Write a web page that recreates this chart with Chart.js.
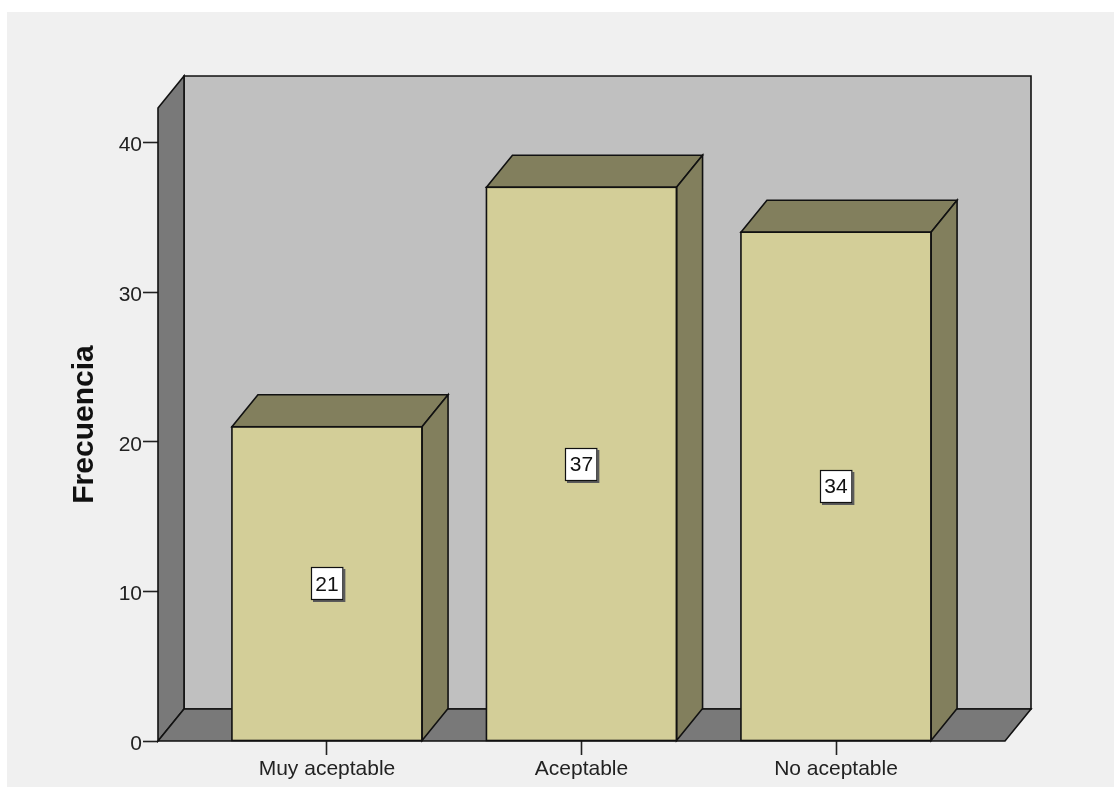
<!DOCTYPE html>
<html>
<head>
<meta charset="utf-8">
<script src="https://cdn.jsdelivr.net/npm/chart.js@4.4.1/dist/chart.umd.min.js"></script>
<style>
  html, body { margin: 0; padding: 0; background: #ffffff; }
  #frame {
    position: absolute; left: 7px; top: 12px;
    width: 1107px; height: 775px; background: #f0f0f0;
  }
  canvas { display: block; }
</style>
</head>
<body>
<div id="frame"><canvas id="chart" width="1107" height="775"></canvas></div>
<script>
// Frequency of each answer
const categories = ['Muy aceptable', 'Aceptable', 'No aceptable'];
const frequencies = [21, 37, 34];
const yTickValues = [0, 10, 20, 30, 40];

// Depth of the 3D box (pixels, toward the upper right)
const DEPTH_X = 26;
const DEPTH_Y = -32;

const COLORS = {
  wall: '#c0c0c0',
  sideWall: '#797979',
  barFront: '#d3ce98',
  barShade: '#827f5d',
  line: '#111111'
};

function poly(ctx, pts, fill) {
  ctx.beginPath();
  ctx.moveTo(pts[0][0], pts[0][1]);
  for (let i = 1; i < pts.length; i++) ctx.lineTo(pts[i][0], pts[i][1]);
  ctx.closePath();
  ctx.fillStyle = fill;
  ctx.fill();
  ctx.stroke();
}

// Back wall, left wall and floor behind the bars; bar tops, sides and labels in front
const boxPlugin = {
  id: 'box3d',
  beforeDatasetsDraw(chart) {
    const { ctx, chartArea: a } = chart;
    ctx.save();
    ctx.lineWidth = 1.6;
    ctx.strokeStyle = COLORS.line;
    ctx.lineJoin = 'miter';
    poly(ctx, [[a.left + DEPTH_X, a.top + DEPTH_Y], [a.right + DEPTH_X, a.top + DEPTH_Y],
               [a.right + DEPTH_X, a.bottom + DEPTH_Y], [a.left + DEPTH_X, a.bottom + DEPTH_Y]], COLORS.wall);
    poly(ctx, [[a.left, a.top], [a.left + DEPTH_X, a.top + DEPTH_Y],
               [a.left + DEPTH_X, a.bottom + DEPTH_Y], [a.left, a.bottom]], COLORS.sideWall);
    poly(ctx, [[a.left, a.bottom], [a.left + DEPTH_X, a.bottom + DEPTH_Y],
               [a.right + DEPTH_X, a.bottom + DEPTH_Y], [a.right, a.bottom]], COLORS.sideWall);
    ctx.restore();
  },
  afterDatasetsDraw(chart) {
    const { ctx } = chart;
    const yScale = chart.scales.y;
    const meta = chart.getDatasetMeta(0);
    ctx.save();
    ctx.lineWidth = 1.6;
    ctx.strokeStyle = COLORS.line;
    meta.data.forEach((bar, i) => {
      const p = bar.getProps(['x', 'y', 'base', 'width'], true);
      const l = p.x - p.width / 2, r = p.x + p.width / 2;
      // top face
      poly(ctx, [[l, p.y], [l + DEPTH_X, p.y + DEPTH_Y], [r + DEPTH_X, p.y + DEPTH_Y], [r, p.y]], COLORS.barShade);
      // right side face
      poly(ctx, [[r, p.y], [r + DEPTH_X, p.y + DEPTH_Y], [r + DEPTH_X, p.base + DEPTH_Y], [r, p.base]], COLORS.barShade);
      // front outline
      ctx.strokeRect(l, p.y, p.width, p.base - p.y);

      // value label in the middle of the bar
      const v = frequencies[i];
      const cy = yScale.getPixelForValue(v / 2);
      ctx.font = '21px "Liberation Sans", Arial, sans-serif';
      const tw = ctx.measureText(String(v)).width;
      const bw = tw + 9, bh = 33;
      const bx = Math.round(p.x - bw / 2), by = Math.round(cy - bh / 2);
      ctx.fillStyle = '#5a5a5a';
      ctx.fillRect(bx + 2, by + 2, bw, bh);
      ctx.fillStyle = '#ffffff';
      ctx.fillRect(bx, by, bw, bh);
      ctx.lineWidth = 1.2;
      ctx.strokeRect(bx + 0.5, by + 0.5, bw - 1, bh - 1);
      ctx.lineWidth = 1.6;
      ctx.fillStyle = '#111111';
      ctx.textAlign = 'center';
      ctx.textBaseline = 'middle';
      ctx.fillText(String(v), p.x, cy + 1);
    });
    ctx.restore();
  }
};

new Chart(document.getElementById('chart'), {
  type: 'bar',
  data: {
    datasets: [{
      data: frequencies.map((v, i) => ({ x: i, y: v })),
      backgroundColor: COLORS.barFront,
      borderColor: COLORS.line,
      borderWidth: 0,
      barPercentage: 0.747,
      categoryPercentage: 1
    }]
  },
  options: {
    responsive: false,
    animation: false,
    devicePixelRatio: 1,
    layout: { padding: { left: 0, top: 96, right: 109, bottom: 0 } },
    plugins: { legend: { display: false }, tooltip: { enabled: false } },
    scales: {
      x: {
        type: 'linear',
        offset: false,
        min: -0.664,
        max: 2.664,
        afterBuildTicks: (axis) => { axis.ticks = categories.map((c, i) => ({ value: i })); },
        afterFit: (axis) => { axis.height = 46; },
        ticks: {
          callback: (value) => categories[value],
          autoSkip: false,
          maxRotation: 0,
          padding: 2,
          color: '#222222',
          font: { family: '"Liberation Sans", Arial, sans-serif', size: 21 }
        },
        grid: { offset: false, drawOnChartArea: false, drawTicks: true, tickLength: 14, tickColor: '#222222', tickWidth: 1.6 },
        border: { display: false }
      },
      y: {
        min: 0,
        max: 42.3,
        afterBuildTicks: (axis) => { axis.ticks = yTickValues.map(v => ({ value: v })); },
        afterFit: (axis) => { axis.width = 151; },
        ticks: {
          padding: 1,
          labelOffset: 3,
          color: '#222222',
          font: { family: '"Liberation Sans", Arial, sans-serif', size: 21 }
        },
        grid: { drawOnChartArea: false, drawTicks: true, tickLength: 15, tickColor: '#222222', tickWidth: 1.6 },
        border: { display: false },
        title: {
          display: true,
          text: 'Frecuencia',
          color: '#111111',
          padding: { top: 60 },
          font: { family: '"Liberation Sans", Arial, sans-serif', size: 30, weight: 'bold' }
        }
      }
    }
  },
  plugins: [boxPlugin]
});
</script>
</body>
</html>
